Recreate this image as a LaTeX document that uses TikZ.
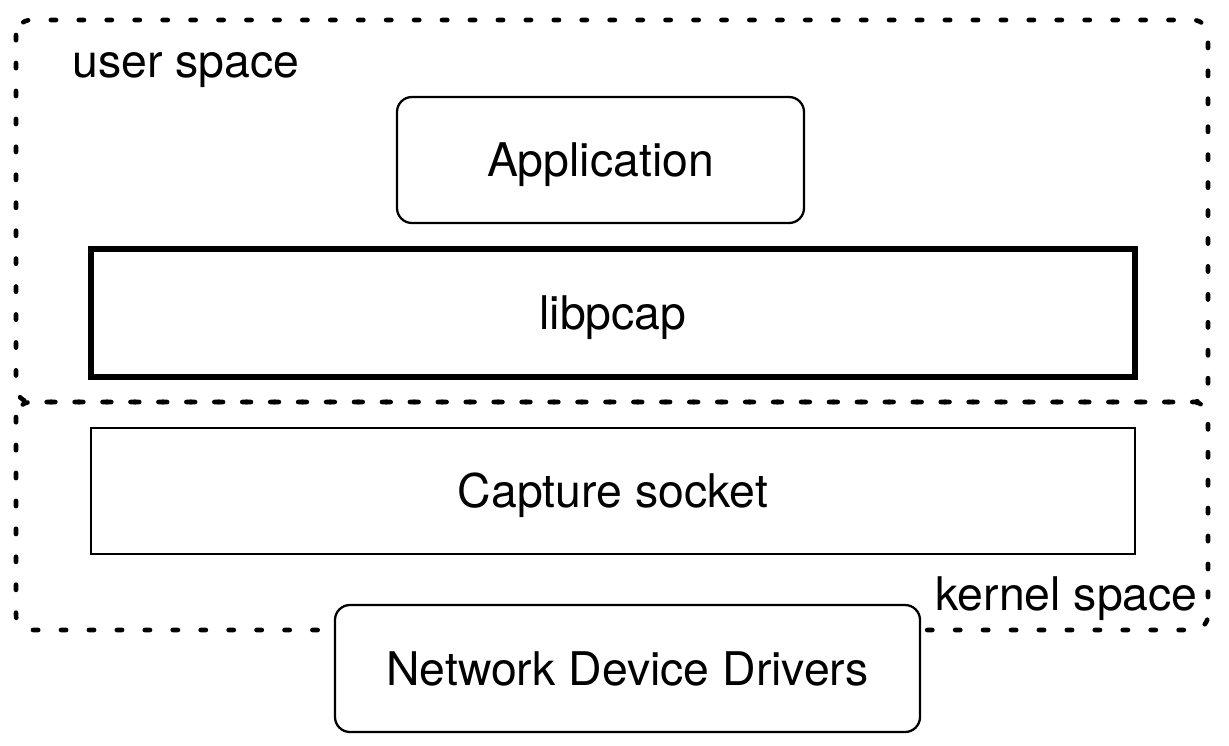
\documentclass[tikz,border=0pt]{standalone}
\usepackage{fontspec}
\setmainfont{TeX Gyre Heros}
\usetikzlibrary{positioning}

\begin{document}
\begin{tikzpicture}[
    layer/.style={draw, line width=1.3pt, align=center, fill=white, font=\fontsize{26.4}{32}\selectfont, inner sep=0pt, text height=19pt, text depth=0pt},
    roundlayer/.style={layer, rounded corners=0.3cm},
    boldlayer/.style={layer, line width=2.9pt},
    space/.style={line width=2.6pt, line cap=round, dash pattern=on 3pt off 12.9pt, rounded corners=0.3cm},
    spacelabel/.style={font=\fontsize{26.4}{32}\selectfont, inner sep=0pt}
]
\useasboundingbox (0,0) rectangle (24.58,-14.92);

% user space and kernel space
\draw[space] (0.32,-0.4) rectangle (24.16,-8.04);
\draw[space] (0.32,-8.04) rectangle (24.16,-12.6);
\node[spacelabel, anchor=west] (user) at (1.44,-1.4) {user space};
\node[spacelabel, anchor=east] (kernel) at (23.96,-11.98) {kernel space};

% stack
\node[roundlayer, minimum width=8.14cm, minimum height=2.52cm] (app) at (12.01,-3.2) {Application};
\node[boldlayer, minimum width=20.88cm, minimum height=2.56cm] (pcap) at (12.26,-6.26) {libpcap};
\node[layer, minimum width=20.88cm, minimum height=2.52cm] (sock) at (12.26,-9.82) {Capture socket};
\node[roundlayer, minimum width=11.7cm, minimum height=2.54cm] (drv) at (12.55,-13.37) {Network Device Drivers};
\end{tikzpicture}
\end{document}
